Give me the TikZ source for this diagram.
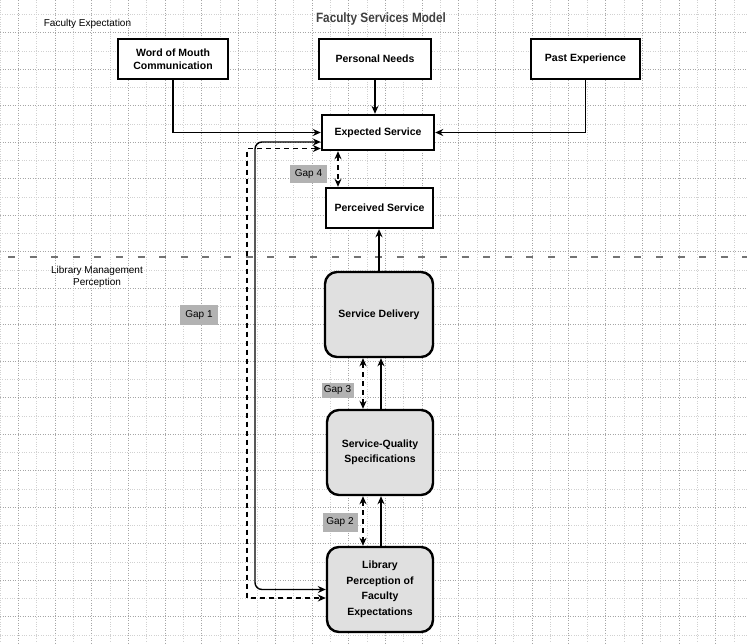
\documentclass[tikz,border=0pt]{standalone}
\usepackage{fontspec}
\usepackage{graphicx}
\setmainfont{Liberation Sans}
\usetikzlibrary{arrows.meta,calc}
\tikzset{
  sqbox/.style={draw=black, line width=2.4pt, fill=white, align=center, inner sep=2pt,
    font=\bfseries\fontsize{10.5}{13}\selectfont},
  rdbox/.style={draw=black, line width=2.4pt, fill=black!12, rounded corners=12pt, align=center,
    inner sep=2pt, minimum width=106pt, minimum height=85pt,
    font=\bfseries\fontsize{10.5}{15.5}\selectfont},
  gaplabel/.style={fill=black!30, inner sep=0pt, font=\fontsize{10}{12}\selectfont},
  conn/.style={draw=black, line width=1.4pt, -{Stealth[length=8pt,width=7pt]}},
  dconn/.style={draw=black, line width=1.4pt, dash pattern=on 5pt off 4pt,
    {Stealth[length=8pt,width=7pt]}-{Stealth[length=8pt,width=7pt]}},
  bconn/.style={draw=black, line width=1.4pt,
    {Stealth[length=8pt,width=7pt]}-{Stealth[length=8pt,width=7pt]}},
  minorgrid/.style={draw=black!18, line width=0.4pt, dotted},
  majorgrid/.style={draw=black!35, line width=0.5pt, dotted},
  sepline/.style={draw=black!55, line width=2pt, dash pattern=on 7pt off 14.6pt},
  plainlabel/.style={align=center, inner sep=0pt, font=\fontsize{10}{11.5}\selectfont}
}
\begin{document}
\begin{tikzpicture}[x=1pt,y=-1pt]
\useasboundingbox (0,0) rectangle (747,643);
\fill[white] (0,0) rectangle (747,643);
% grid
\foreach \i in {0,...,41} {
  \pgfmathsetmacro{\gx}{-0.15+18.35*\i}
  \ifodd\i
    \draw[majorgrid] (\gx,0) -- (\gx,643);
  \else
    \draw[minorgrid] (\gx,0) -- (\gx,643);
  \fi
}
\foreach \i in {0,...,36} {
  \pgfmathsetmacro{\gy}{-4+18.25*\i}
  \ifodd\i
    \draw[minorgrid] (0,\gy) -- (747,\gy);
  \else
    \draw[majorgrid] (0,\gy) -- (747,\gy);
  \fi
}
% separator
\coordinate (sepL) at (8,257);
\coordinate (sepR) at (747,257);
\draw[sepline] (sepL) -- (sepR);

% texts
\node[font=\bfseries\fontsize{13.5}{16}\selectfont, text=black!75] (title) at (381,19) {\scalebox{0.87}[1]{Faculty Services Model}};
\node[plainlabel] (fe) at (87.5,24) {Faculty Expectation};
\node[plainlabel] (lmp) at (97,277) {Library Management\\Perception};

% boxes
\node[sqbox, minimum width=110pt, minimum height=40pt] (wom) at (173,59) {Word of Mouth\\Communication};
\node[sqbox, minimum width=112pt, minimum height=40pt] (pn) at (375,59) {Personal Needs};
\node[sqbox, minimum width=109pt, minimum height=40pt] (past) at (585.5,59) {Past Experience};
\node[sqbox, minimum width=112pt, minimum height=35pt] (es) at (378,132.5) {Expected Service};
\node[sqbox, minimum width=107pt, minimum height=40pt] (ps) at (379.5,208) {Perceived Service};
\node[rdbox, minimum width=108pt] (sd) at (379,314.5) {Service Delivery};
\node[rdbox] (sqs) at (380,452.5) {Service-Quality\\Specifications};
\node[rdbox] (lp) at (380,589.5) {Library\\Perception of\\Faculty\\Expectations};

% gap labels
\node[gaplabel, minimum width=37pt, minimum height=18pt] (g4) at (308.5,174) {Gap 4};
\node[gaplabel, minimum width=32pt, minimum height=15pt] (g3) at (337.5,390) {Gap 3};
\node[gaplabel, minimum width=35pt, minimum height=19pt] (g2) at (340,522) {Gap 2};
\node[gaplabel, minimum width=38pt, minimum height=20pt] (g1) at (199,315) {Gap 1};

% connectors top
\draw[conn] (wom.south) |- (es.west);
\draw[conn] (past.south) |- (es.east);
\draw[conn] (pn.south) -- (pn.south |- es.north);

% gap 4
\coordinate (g4x) at (338,0);
\draw[dconn] (es.south -| g4x) -- (ps.north -| g4x);
% perceived <- delivery
\draw[conn] (sd.north) -- (sd.north |- ps.south);

% gap 3 and 2
\coordinate (gx) at (363,0);
\coordinate (sx) at (381,0);
\draw[dconn] (sd.south -| gx) -- (sqs.north -| gx);
\draw[conn] (sqs.north -| sx) -- (sd.south -| sx);
\draw[dconn] (sqs.south -| gx) -- (lp.north -| gx);
\draw[conn] (lp.north -| sx) -- (sqs.south -| sx);

% gap 1
\coordinate (esa) at ([yshift=-9.5pt]es.west);
\coordinate (esb) at ([yshift=-16pt]es.west);
\coordinate (lpb) at ([yshift=-8.5pt]lp.west);
\coordinate (c1) at (255,0);
\coordinate (c2) at (247,0);
\draw[bconn, rounded corners=7pt] (esa) -- (esa -| c1) -- (lp.west -| c1) -- (lp.west);
\draw[dconn] (esb) -- (esb -| c2) -- (lpb -| c2) -- (lpb);
\end{tikzpicture}
\end{document}
